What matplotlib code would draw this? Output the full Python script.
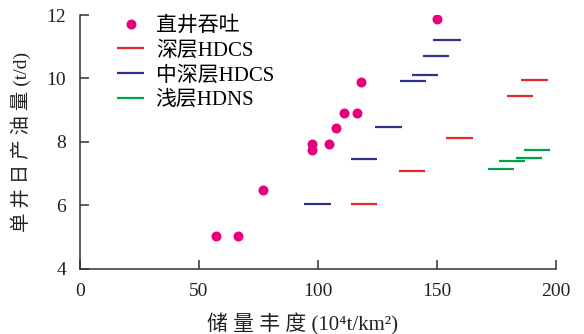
import matplotlib.pyplot as plt

plt.rcParams['font.family'] = ['Liberation Serif', 'Noto Sans CJK SC', 'DejaVu Serif']

# vertical wells, huff and puff
well_x = [57, 66.5, 77, 97.5, 97.5, 104.5, 107.5, 111, 116.5, 118, 150]
well_y = [5.03, 5.03, 6.49, 7.92, 7.76, 7.94, 8.44, 8.92, 8.92, 9.9, 11.88]

# deep HDCS segments
deep_x0 = [114, 134, 154, 179.5, 185.5]
deep_x1 = [125, 145, 165, 190.5, 196.5]
deep_y = [6.06, 7.1, 8.14, 9.45, 9.94]

# mid-deep HDCS segments
mid_x0 = [94, 114, 124, 134.5, 139.5, 144, 148.5]
mid_x1 = [105.5, 125, 135.5, 145.5, 150.5, 155, 160]
mid_y = [6.04, 7.46, 8.47, 9.93, 10.12, 10.71, 11.2]

# shallow HDNS segments
shallow_x0 = [171.5, 176, 183, 186.5]
shallow_x1 = [182.5, 187, 194, 197.5]
shallow_y = [7.14, 7.39, 7.5, 7.76]

fig = plt.figure(figsize=(5.84, 3.34), dpi=100)
ax = fig.add_axes([0.137, 0.195, 0.815, 0.76])

ax.plot(well_x, well_y, 'o', color='#e6007e', markersize=7.2, markeredgewidth=0,
        label='直井吞吐')
ax.hlines(deep_y, deep_x0, deep_x1, color='#e8262d', lw=1.6, label='深层HDCS')
ax.hlines(mid_y, mid_x0, mid_x1, color='#2e3192', lw=1.6, label='中深层HDCS')
ax.hlines(shallow_y, shallow_x0, shallow_x1, color='#00a14b', lw=1.6, label='浅层HDNS')

ax.set_xlim(0, 200)
ax.set_ylim(4, 12)
ax.set_xticks([0, 50, 100, 150, 200])
ax.set_yticks([4, 6, 8, 10, 12])

for side in ['top', 'right']:
    ax.spines[side].set_visible(False)
for side in ['left', 'bottom']:
    ax.spines[side].set_color('#333333')
    ax.spines[side].set_linewidth(1.1)
ax.tick_params(direction='in', length=6.5, width=1.1, color='#333333',
               labelsize=14, labelcolor='#222222', pad=10)

ax.set_xlabel('储 量 丰 度 (10⁴t/km²)', fontsize=15, color='#222222')
ax.xaxis.set_label_coords(0.468, -0.175)
ax.set_ylabel('单 井 日 产 油 量 (t/d)', fontsize=14, color='#222222')
ax.yaxis.set_label_coords(-0.103, 0.5)

ax.legend(loc='upper left', bbox_to_anchor=(0.078, 0.995), frameon=False, fontsize=15,
          handlelength=1.3, handletextpad=0.55, labelspacing=0.25, borderaxespad=0,
          borderpad=0)

plt.savefig('out.png', dpi=100)
